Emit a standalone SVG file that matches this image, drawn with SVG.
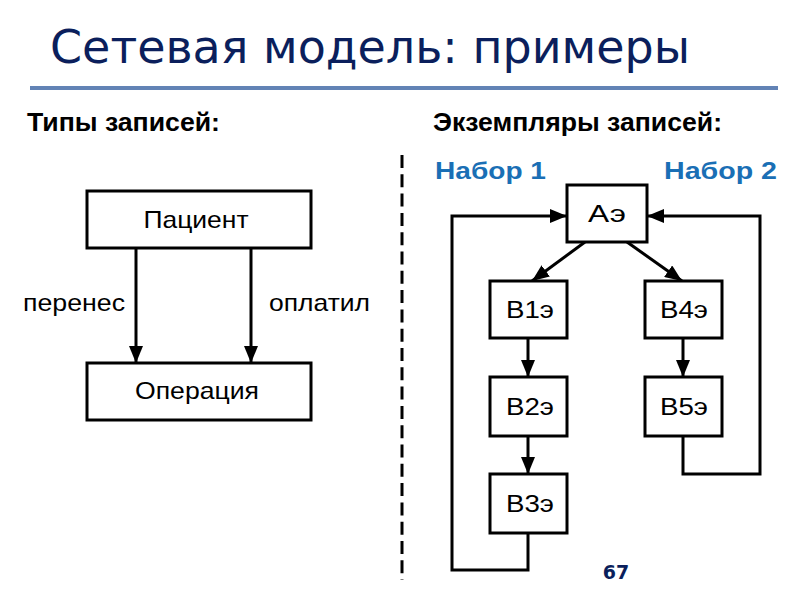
<svg xmlns="http://www.w3.org/2000/svg" width="800" height="600" viewBox="0 0 800 600">
<defs>
<style>
.box{fill:#fff;stroke:#000;stroke-width:3}
.lbl{font-family:"Liberation Sans",Arial,sans-serif;font-size:24px;fill:#000;text-anchor:middle}
.txt{font-family:"Liberation Sans",Arial,sans-serif;font-size:24px;fill:#000}
.hdr{font-family:"Liberation Sans",Arial,sans-serif;font-size:25px;font-weight:bold;fill:#000}
.set{font-family:"Liberation Sans",Arial,sans-serif;font-size:24px;font-weight:bold;fill:#1a6fb5}
.ar{fill:none;stroke:#000;stroke-width:3;marker-end:url(#ah)}
</style>
<marker id="ah" viewBox="0 0 17 14" refX="17" refY="7" markerUnits="userSpaceOnUse" markerWidth="17" markerHeight="14" orient="auto">
<path d="M0,0 L17,7 L0,14 z" fill="#000"/>
</marker>
</defs>
<rect width="800" height="600" fill="#fff"/>
<text x="50" y="63" font-family="DejaVu Sans, sans-serif" font-size="46" fill="#0b1f5c" textLength="640" lengthAdjust="spacingAndGlyphs">Сетевая модель: примеры</text>
<rect x="30" y="86" width="748" height="4" fill="#6283b5"/>
<text class="hdr" x="27" y="131" textLength="193" lengthAdjust="spacingAndGlyphs">Типы записей:</text>
<text class="hdr" x="433" y="131" textLength="289" lengthAdjust="spacingAndGlyphs">Экземпляры записей:</text>
<line x1="402" y1="155" x2="402" y2="580" stroke="#000" stroke-width="3" stroke-dasharray="13 6.3"/>
<text class="set" x="435" y="179" textLength="111" lengthAdjust="spacingAndGlyphs">Набор 1</text>
<text class="set" x="664" y="179" textLength="113" lengthAdjust="spacingAndGlyphs">Набор 2</text>
<text x="616" y="579" text-anchor="middle" font-family="DejaVu Sans, sans-serif" font-size="19" font-weight="bold" fill="#0b1f5c">67</text>

<g id="connectors">
<line class="ar" x1="136" y1="248" x2="136" y2="363"/>
<line class="ar" x1="251" y1="248" x2="251" y2="363"/>
<text class="txt" x="23" y="311" textLength="102" lengthAdjust="spacingAndGlyphs">перенес</text>
<text class="txt" x="269" y="311" textLength="101" lengthAdjust="spacingAndGlyphs">оплатил</text>
<line class="ar" x1="585" y1="242" x2="532" y2="281"/>
<line class="ar" x1="627" y1="242" x2="682" y2="281"/>
<line class="ar" x1="528" y1="338" x2="528" y2="377"/>
<line class="ar" x1="683" y1="338" x2="683" y2="377"/>
<line class="ar" x1="528" y1="436" x2="528" y2="474"/>
<polyline class="ar" points="528,533 528,570 452,570 452,216 567,216"/>
<polyline class="ar" points="683,436 683,474 760,474 760,216 647,216"/>
</g>

<g id="patient"><rect class="box" x="87" y="191" width="224" height="57"/><text class="lbl" x="196" y="228" textLength="105" lengthAdjust="spacingAndGlyphs">Пациент</text></g>
<g id="operation"><rect class="box" x="87" y="363" width="224" height="57"/><text class="lbl" x="197" y="399" textLength="124" lengthAdjust="spacingAndGlyphs">Операция</text></g>
<g id="A"><rect class="box" x="567" y="185" width="80" height="57"/><text class="lbl" x="607" y="222" textLength="38" lengthAdjust="spacingAndGlyphs">Аэ</text></g>
<g id="B1"><rect class="box" x="490" y="281" width="77" height="57"/><text class="lbl" x="530" y="318" textLength="48" lengthAdjust="spacingAndGlyphs">В1э</text></g>
<g id="B4"><rect class="box" x="645" y="281" width="77" height="57"/><text class="lbl" x="684" y="318" textLength="48" lengthAdjust="spacingAndGlyphs">В4э</text></g>
<g id="B2"><rect class="box" x="490" y="377" width="77" height="59"/><text class="lbl" x="530" y="415" textLength="48" lengthAdjust="spacingAndGlyphs">В2э</text></g>
<g id="B5"><rect class="box" x="645" y="377" width="77" height="59"/><text class="lbl" x="684" y="415" textLength="48" lengthAdjust="spacingAndGlyphs">В5э</text></g>
<g id="B3"><rect class="box" x="490" y="474" width="77" height="59"/><text class="lbl" x="530" y="512" textLength="48" lengthAdjust="spacingAndGlyphs">В3э</text></g>
</svg>
